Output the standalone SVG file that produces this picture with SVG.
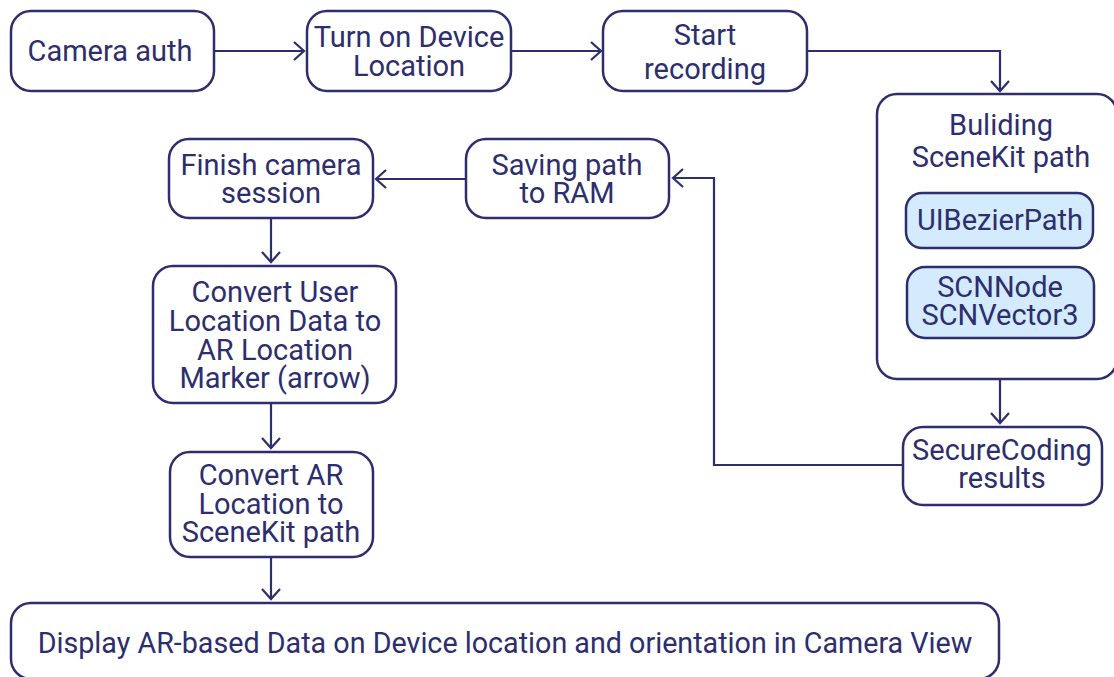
<svg xmlns="http://www.w3.org/2000/svg" width="1114" height="677" viewBox="0 0 1114 677">
<style>
.box{fill:#ffffff;stroke:#2c2e6e;stroke-width:2.5}
.sub{fill:#d3ebfd;stroke:#2c2e6e;stroke-width:2.5}
.t{font-family:Roboto,"Liberation Sans",sans-serif;font-size:29px;fill:#2c2e6e;text-anchor:middle;dominant-baseline:central}
.big{font-size:28.7px}
.c{fill:none;stroke:#2c2e6e;stroke-width:2.2}
</style>
<defs>
<marker id="ah" viewBox="-1 -10 13 20" refX="10" refY="0" markerWidth="13" markerHeight="20" markerUnits="userSpaceOnUse" orient="auto">
<path d="M0,-9 L10,0 L0,9" fill="none" stroke="#2c2e6e" stroke-width="2.2"/>
</marker>
</defs>
<rect width="1114" height="677" fill="#ffffff"/>
<g id="connectors">
<path class="c" d="M214,51 L304,51" marker-end="url(#ah)"/>
<path class="c" d="M511,51 L601,51" marker-end="url(#ah)"/>
<path class="c" d="M807,51 L1000,51 L1000,91" marker-end="url(#ah)"/>
<path class="c" d="M1000,379 L1000,423" marker-end="url(#ah)"/>
<path class="c" d="M903,465 L714,465 L714,178 L673,178" marker-end="url(#ah)"/>
<path class="c" d="M466,179 L376,179" marker-end="url(#ah)"/>
<path class="c" d="M271,218 L271,262" marker-end="url(#ah)"/>
<path class="c" d="M271,403 L271,448" marker-end="url(#ah)"/>
<path class="c" d="M271,557 L271,599" marker-end="url(#ah)"/>
</g>
<g id="camera-auth">
<rect class="box" x="11" y="11" width="203" height="80" rx="20"/>
<text class="t" x="110" y="51">Camera auth</text>
</g>
<g id="turn-on-location">
<rect class="box" x="307" y="11" width="204" height="80" rx="20"/>
<text class="t" x="409" y="37">Turn on Device</text>
<text class="t" x="409" y="66">Location</text>
</g>
<g id="start-recording">
<rect class="box" x="603" y="11" width="204" height="80" rx="20"/>
<text class="t" x="705" y="35">Start</text>
<text class="t" x="705" y="69">recording</text>
</g>
<g id="building-path">
<rect class="box" x="877" y="94" width="240" height="285" rx="20"/>
<text class="t" x="1001" y="125">Buliding</text>
<text class="t" x="1001" y="157">SceneKit path</text>
</g>
<g id="uibezierpath">
<rect class="sub" x="906" y="193" width="187" height="55" rx="16"/>
<text class="t" x="1000" y="220">UIBezierPath</text>
</g>
<g id="scnnode">
<rect class="sub" x="907" y="267" width="187" height="71" rx="18"/>
<text class="t" x="1000" y="287">SCNNode</text>
<text class="t" x="1000" y="315">SCNVector3</text>
</g>
<g id="securecoding">
<rect class="box" x="903" y="427" width="199" height="78" rx="20"/>
<text class="t" x="1002" y="450">SecureCoding</text>
<text class="t" x="1002" y="478">results</text>
</g>
<g id="saving-path">
<rect class="box" x="466" y="139" width="203" height="79" rx="20"/>
<text class="t" x="567" y="165">Saving path</text>
<text class="t" x="567" y="193">to RAM</text>
</g>
<g id="finish-session">
<rect class="box" x="169" y="139" width="204" height="79" rx="20"/>
<text class="t" x="271" y="165">Finish camera</text>
<text class="t" x="271" y="193">session</text>
</g>
<g id="convert-user-location">
<rect class="box" x="153" y="266" width="243" height="137" rx="20"/>
<text class="t" x="275" y="292">Convert User</text>
<text class="t" x="275" y="321">Location Data to</text>
<text class="t" x="275" y="350">AR Location</text>
<text class="t" x="275" y="378">Marker (arrow)</text>
</g>
<g id="convert-ar-location">
<rect class="box" x="170" y="452" width="203" height="105" rx="20"/>
<text class="t" x="271" y="475">Convert AR</text>
<text class="t" x="271" y="504">Location to</text>
<text class="t" x="271" y="532">SceneKit path</text>
</g>
<g id="display">
<rect class="box" x="11" y="603" width="988" height="76" rx="20"/>
<text class="t big" x="505" y="643">Display AR-based Data on Device location and orientation in Camera View</text>
</g>
</svg>
